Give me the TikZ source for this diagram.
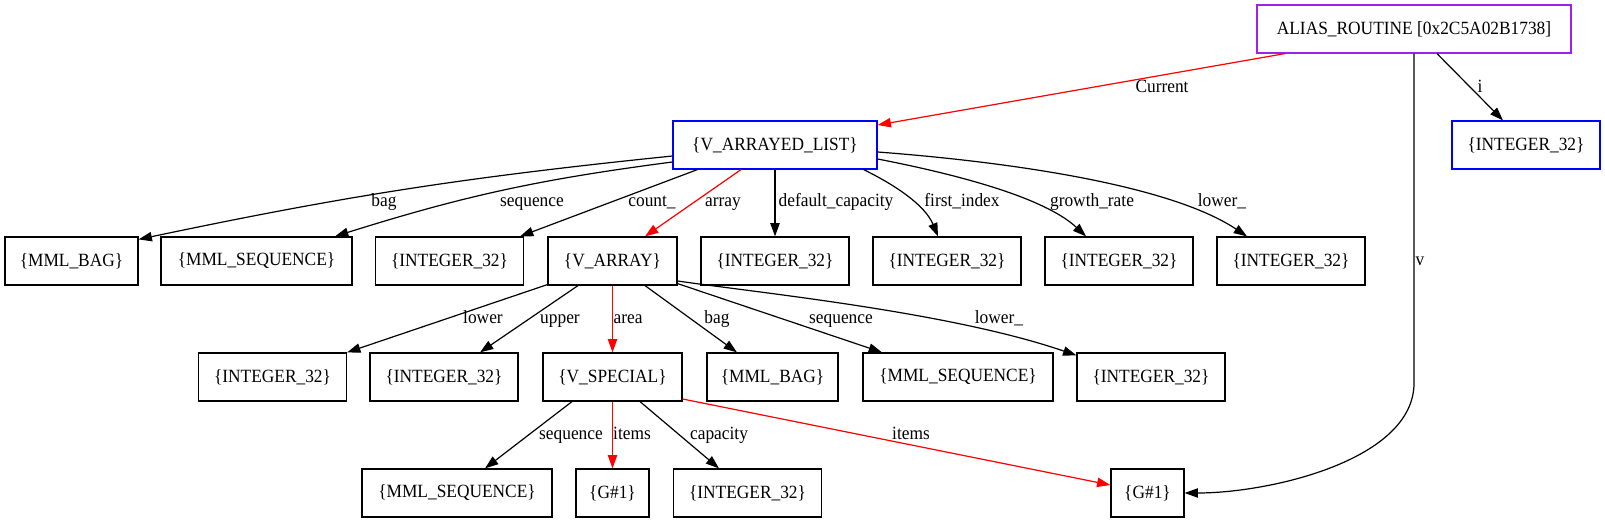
\documentclass[tikz,border=0pt]{standalone}
\usepackage{fontspec}
\setmainfont{Liberation Serif}[FakeStretch=0.93]
\usetikzlibrary{arrows.meta,calc}
\definecolor{gvpurple}{HTML}{A020F0}
\definecolor{gvblue}{HTML}{0000FF}
\definecolor{gvred}{HTML}{FF0000}
\begin{document}
\begin{tikzpicture}[x=0.75pt,y=-0.75pt,
  box/.style={draw, rectangle, line width=0.9pt, inner sep=0pt, minimum height=36pt,
    font=\fontsize{14}{16}\selectfont},
  bluebox/.style={box, draw=gvblue},
  purplebox/.style={box, draw=gvpurple},
  edgeblk/.style={-{Triangle[length=10pt,width=7pt]}, line width=0.9pt, black},
  edgered/.style={edgeblk, draw=gvred, fill=gvred},
  lbl/.style={inner sep=0pt, anchor=base, font=\fontsize{14}{16}\selectfont, text=black, fill=none, draw=none}]
\useasboundingbox (0,0) rectangle (1605,523);

% nodes
\node[purplebox, minimum width=235.5pt] (alias) at (1414,29) {ALIAS\_ROUTINE [0x2C5A02B1738]};
\node[bluebox, minimum width=153pt] (varrlist) at (775,145) {\{V\_ARRAYED\_LIST\}};
\node[bluebox, minimum width=111pt] (intblue) at (1526,145) {\{INTEGER\_32\}};

\node[box, minimum width=99.75pt] (mmlbag) at (71.5,261) {\{MML\_BAG\}};
\node[box, minimum width=143.25pt] (mmlseq) at (256.5,261) {\{MML\_SEQUENCE\}};
\node[box, minimum width=111pt] (intA) at (449.5,261) {\{INTEGER\_32\}};
\node[box, minimum width=96.75pt] (varray) at (612.5,261) {\{V\_ARRAY\}};
\node[box, minimum width=111pt] (intB) at (775,261) {\{INTEGER\_32\}};
\node[box, minimum width=111pt] (intC) at (947,261) {\{INTEGER\_32\}};
\node[box, minimum width=111pt] (intD) at (1119,261) {\{INTEGER\_32\}};
\node[box, minimum width=111pt] (intE) at (1291,261) {\{INTEGER\_32\}};

\node[box, minimum width=111pt] (intF) at (272.5,377) {\{INTEGER\_32\}};
\node[box, minimum width=111pt] (intG) at (444,377) {\{INTEGER\_32\}};
\node[box, minimum width=104.25pt] (vspecial) at (612.5,377) {\{V\_SPECIAL\}};
\node[box, minimum width=98.25pt] (mmlbagB) at (772.5,377) {\{MML\_BAG\}};
\node[box, minimum width=142.5pt] (mmlseqB) at (958,377) {\{MML\_SEQUENCE\}};
\node[box, minimum width=111pt] (intH) at (1151,377) {\{INTEGER\_32\}};

\node[box, minimum width=142.5pt] (mmlseqC) at (457,493) {\{MML\_SEQUENCE\}};
\node[box, minimum width=54.75pt] (gA) at (612.5,493) {\{G\#1\}};
\node[box, minimum width=111pt] (intI) at (747.5,493) {\{INTEGER\_32\}};
\node[box, minimum width=54.75pt] (gB) at (1147.5,493) {\{G\#1\}};

% edges from ALIAS_ROUTINE
\draw[edgered] ($(alias.south)+(-129,0)$) -- ($(varrlist.east)+(0,-20)$)
  node[lbl] at (1162,93) {Current};
\draw[edgeblk] ($(alias.south)+(23,0)$) -- ($(intblue.north)+(-23,0)$)
  node[lbl] at (1480,93) {i};
\draw[edgeblk] (alias.south) -- (1414,383) .. controls (1414,460) and (1270,493) .. (gB.east)
  node[lbl] at (1420,266) {v};

% edges from V_ARRAYED_LIST
\draw[edgeblk] ($(varrlist.west)+(0,11)$) to[bend right=3] ($(mmlbag.north east)+(0,3)$)
  node[lbl] at (384,207) {bag};
\draw[edgeblk] ($(varrlist.west)+(0,17)$) to[bend right=5] ($(mmlseq.north)+(78.5,0)$)
  node[lbl] at (532,207) {sequence};
\draw[edgeblk] ($(varrlist.south west)+(25,0)$) -- ($(intA.north)+(70.5,0)$)
  node[lbl] at (652,207) {count\_};
\draw[edgered] ($(varrlist.south)+(-34,0)$) -- ($(varray.north)+(32.5,0)$)
  node[lbl] at (723,207) {array};
\draw[edgeblk] (varrlist.south) -- (intB.north)
  node[lbl] at (836,207) {default\_capacity};
\draw[edgeblk] ($(varrlist.south east)+(-14,0)$) .. controls (895,185) and (925,205) .. ($(intC.north)+(-9,0)$)
  node[lbl] at (962,207) {first\_index};
\draw[edgeblk] ($(varrlist.east)+(0,14)$) .. controls (960,175) and (1045,198) .. ($(intD.north)+(-33,0)$)
  node[lbl] at (1092,207) {growth\_rate};
\draw[edgeblk] ($(varrlist.east)+(0,7)$) .. controls (1010,162) and (1170,185) .. ($(intE.north)+(-44,0)$)
  node[lbl] at (1222,207) {lower\_};

% edges from V_ARRAY
\draw[edgeblk] ($(varray.south west)+(0,-1)$) -- (intF.north east)
  node[lbl] at (483,324) {lower};
\draw[edgeblk] ($(varray.south)+(-34.5,0)$) -- ($(intG.north)+(36,0)$)
  node[lbl] at (560,324) {upper};
\draw[edgered] (varray.south) -- (vspecial.north)
  node[lbl] at (628,324) {area};
\draw[edgeblk] ($(varray.south)+(32.5,0)$) -- ($(mmlbagB.north)+(-35.5,0)$)
  node[lbl] at (717,324) {bag};
\draw[edgeblk] ($(varray.south east)+(0,-2)$) -- ($(mmlseqB.north)+(-76,0)$)
  node[lbl] at (841,324) {sequence};
\draw[edgeblk] ($(varray.east)+(0,20)$) .. controls (760,293) and (950,312) .. ($(intH.north west)+(0,3)$)
  node[lbl] at (999,324) {lower\_};

% edges from V_SPECIAL
\draw[edgeblk] ($(vspecial.south)+(-40.5,0)$) -- ($(mmlseqC.north)+(28,0)$)
  node[lbl] at (571,440) {sequence};
\draw[edgered] (vspecial.south) -- (gA.north)
  node[lbl] at (632,440) {items};
\draw[edgeblk] ($(vspecial.south)+(27.5,0)$) -- ($(intI.north)+(-28.5,0)$)
  node[lbl] at (719,440) {capacity};
\draw[edgered] ($(vspecial.east)+(0,22)$) -- ($(gB.west)+(0,-8)$)
  node[lbl] at (911,440) {items};
\end{tikzpicture}
\end{document}
